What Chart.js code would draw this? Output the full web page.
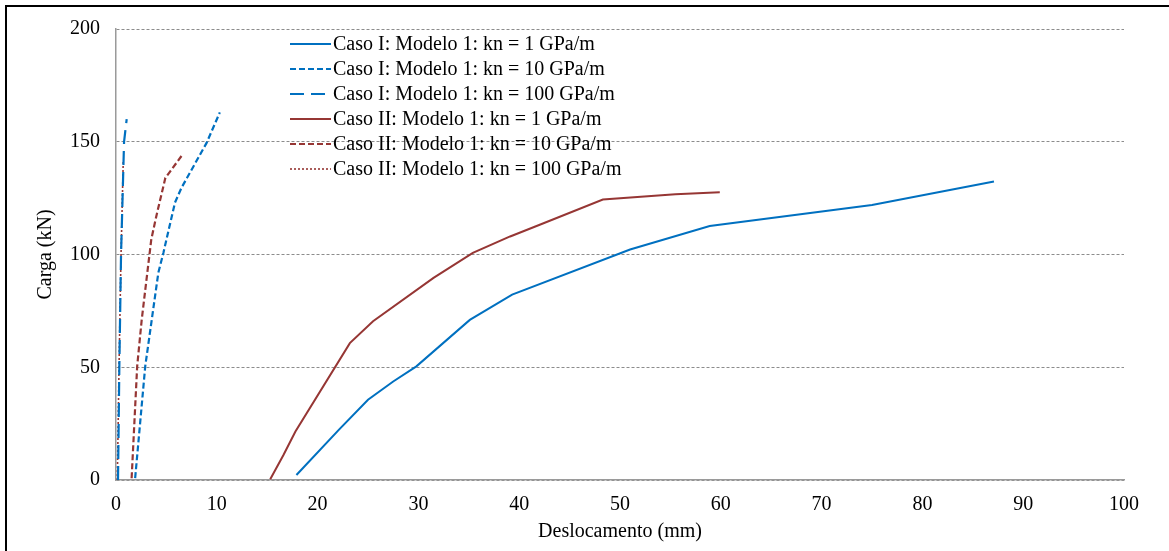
<!DOCTYPE html>
<html>
<head>
<meta charset="utf-8">
<script src="https://cdn.jsdelivr.net/npm/chart.js@4"></script>
<style>
body { margin: 0; background: #fff; }
canvas { display: block; }
</style>
</head>
<body>
<canvas id="chart" width="1169" height="551"></canvas>
<script>
// values: x = deslocamento (mm), y = carga (kN)
var caso1kn1X = [17.9, 22.1, 25.0, 27.5, 29.8, 35.1, 39.3, 51.0, 58.9, 75.0, 87.1];
var caso1kn1Y = [2.2, 22.2, 35.6, 43.7, 50.4, 71.0, 82.2, 102.2, 112.6, 122.0, 132.4];
var caso1kn10X = [1.9, 2.9, 4.2, 4.7, 5.85, 6.5, 9.0, 10.3];
var caso1kn10Y = [0.8, 50.4, 91.9, 100.7, 123, 129.6, 149.6, 163];
var caso1kn100X = [0.2, 0.33, 0.5, 0.8, 1.06];
var caso1kn100Y = [0, 50, 100, 150, 160];
var caso2kn1X = [15.3, 16.6, 17.8, 23.2, 25.5, 31.5, 35.4, 39.1, 42.1, 48.3, 55.5, 59.9];
var caso2kn1Y = [0.3, 11, 21.5, 60.7, 70.4, 89.6, 100.7, 108, 113.3, 124.4, 126.7, 127.6];
var caso2kn10X = [1.55, 2.1, 2.55, 3.5, 4.0, 4.9, 5.4, 6.5];
var caso2kn10Y = [0.8, 50.4, 71, 106.7, 117, 134, 137, 143.7];
var caso2kn100X = [0.13, 0.3, 0.5, 0.72];
var caso2kn100Y = [0, 50, 100, 141.5];

var seriesNames = [
    'Caso I: Modelo 1: kn = 1 GPa/m',
    'Caso I: Modelo 1: kn = 10 GPa/m',
    'Caso I: Modelo 1: kn = 100 GPa/m',
    'Caso II: Modelo 1: kn = 1 GPa/m',
    'Caso II: Modelo 1: kn = 10 GPa/m',
    'Caso II: Modelo 1: kn = 100 GPa/m'
];
var xTicks = [0, 10, 20, 30, 40, 50, 60, 70, 80, 90, 100];
var yTicks = [0, 50, 100, 150, 200];

var blue = '#0070c0';
var red = '#963634';
var serif = '"Liberation Serif", "Times New Roman", serif';

function pts(xs, ys) {
    var out = [];
    for (var i = 0; i < xs.length; i++) {
        out.push({ x: xs[i], y: ys[i] });
    }
    return out;
}

function series(i, xs, ys, color, dash, width) {
    return {
        label: seriesNames[i],
        data: pts(xs, ys),
        borderColor: color,
        backgroundColor: color,
        borderDash: dash,
        borderWidth: width,
        showLine: true,
        pointRadius: 0,
        tension: 0
    };
}

var frame = {
    id: 'frame',
    beforeDraw: function(chart) {
        var c = chart.ctx;
        c.save();
        c.fillStyle = '#fff';
        c.fillRect(0, 0, chart.width, chart.height);
        c.restore();
    },
    afterDraw: function(chart) {
        var c = chart.ctx;
        c.save();
        c.fillStyle = '#000';
        c.fillRect(5, 5, chart.width - 5, 2);
        c.fillRect(5, 5, 2, chart.height - 5);
        // legend, drawn by hand so the line samples keep their dashes
        var sets = chart.data.datasets;
        c.font = '20px ' + serif;
        c.textBaseline = 'middle';
        for (var i = 0; i < sets.length; i++) {
            var y = 45 + i * 25;
            c.strokeStyle = sets[i].borderColor;
            c.lineWidth = sets[i].borderWidth;
            c.setLineDash(sets[i].borderDash);
            c.beginPath();
            c.moveTo(290, y - 1);
            c.lineTo(331, y - 1);
            c.stroke();
            c.setLineDash([]);
            c.fillStyle = '#000';
            c.fillText(sets[i].label, 333, y);
        }
        c.restore();
    }
};

var ctx = document.getElementById('chart').getContext('2d');
var chart = new Chart(ctx, {
    type: 'scatter',
    data: {
        datasets: [
            series(0, caso1kn1X, caso1kn1Y, blue, [], 2),
            series(1, caso1kn10X, caso1kn10Y, blue, [6, 3], 2.2),
            series(2, caso1kn100X, caso1kn100Y, blue, [14, 7], 2.2),
            series(3, caso2kn1X, caso2kn1Y, red, [], 2),
            series(4, caso2kn10X, caso2kn10Y, red, [6, 3], 2.2),
            series(5, caso2kn100X, caso2kn100Y, red, [2, 2], 1.6)
        ]
    },
    options: {
        animation: false,
        responsive: false,
        maintainAspectRatio: false,
        layout: { padding: { top: 29, right: 45, left: 0, bottom: 0 } },
        plugins: {
            legend: { display: false },
            tooltip: { enabled: false }
        },
        scales: {
            x: {
                type: 'linear',
                min: 0,
                max: 100,
                afterFit: function(scale) { scale.height = 71; },
                afterBuildTicks: function(scale) {
                    scale.ticks = xTicks.map(function(v) { return { value: v }; });
                },
                grid: { display: false, drawTicks: false },
                border: { display: true, color: '#9a9a9a', width: 1.5 },
                ticks: { color: '#000', padding: 13, font: { family: serif, size: 20 } },
                title: {
                    display: true,
                    text: 'Deslocamento (mm)',
                    color: '#000',
                    font: { family: serif, size: 20 },
                    padding: { top: 0, bottom: 7 }
                }
            },
            y: {
                type: 'linear',
                min: 0,
                max: 200,
                afterFit: function(scale) { scale.width = 116; },
                afterBuildTicks: function(scale) {
                    scale.ticks = yTicks.map(function(v) { return { value: v }; });
                },
                grid: { color: '#8c8c8c', lineWidth: 1, drawTicks: false },
                border: { display: true, color: '#9a9a9a', width: 1.5, dash: [3, 2] },
                ticks: { color: '#000', padding: 16, font: { family: serif, size: 20 } },
                title: {
                    display: true,
                    text: 'Carga (kN)',
                    color: '#000',
                    font: { family: serif, size: 20 },
                    padding: { top: 34, bottom: 0 }
                }
            }
        }
    },
    plugins: [frame]
});
</script>
</body>
</html>
